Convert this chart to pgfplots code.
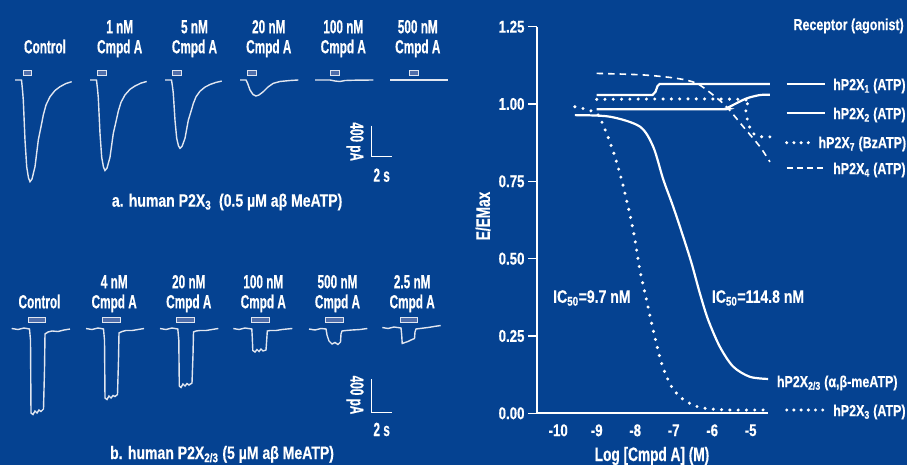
\documentclass[border=0pt]{standalone}
\usepackage{fontspec}
\usepackage{pgfplots}
\pgfplotsset{compat=1.18}
\setmainfont{Liberation Sans}
\newfontfamily\rf{Liberation Sans}[FakeStretch=0.78, FakeBold=0.4]
\newfontfamily\mf{Liberation Sans}[FakeStretch=0.70, FakeBold=0.4]
\newfontfamily\lf{Liberation Sans}[FakeStretch=0.62, FakeBold=0.4]
\definecolor{bg}{RGB}{5,66,145}
\definecolor{tr}{RGB}{225,230,240}
\definecolor{barf}{RGB}{80,110,170}
\newcommand{\LF}{\lf\bfseries\fontsize{19}{20}\selectfont}
\newcommand{\RF}{\rf\bfseries\fontsize{17}{18}\selectfont}
\newcommand{\LG}{\rf\bfseries\fontsize{16}{17}\selectfont}
\newcommand{\CF}{\rf\bfseries\fontsize{18}{19}\selectfont}
\newcommand{\AF}{\mf\bfseries\fontsize{19.5}{20}\selectfont}
\begin{document}
\begin{tikzpicture}
\useasboundingbox (0,0) rectangle (907pt,465pt);
\clip (0,0) rectangle (907pt,465pt);
\fill[bg] (0,0) rectangle (907pt,465pt);
% ---------------- pixel-space axis for the traces and texts
\begin{axis}[at={(0pt,0pt)}, anchor=south west, scale only axis,
  width=907pt, height=465pt, xmin=0, xmax=907, ymin=0, ymax=465,
  y dir=reverse, hide axis, clip=false]
% top traces
\addplot[tr, line width=1.4pt] coordinates {(15,80)(21.5,80)(22.5,90)(23.3,100)(25,140)(26.7,166.7)(28.5,178)(30,181.7)(32,179)(35,166.7)(38.3,140)(41.7,123.3)(43.3,115)(46,105)(50,96.7)(55,90.5)(60,86.7)(66,83.5)(71.7,81.7)};
\addplot[tr, line width=1.4pt] coordinates {(90,80)(96.5,80)(97.5,88.9)(98.3,97.8)(100,133.4)(101.7,157.2)(103.5,167.2)(105,170.5)(107,168.1)(110,157.2)(113.3,133.4)(116.7,118.5)(118.3,111.2)(121,102.3)(125,94.9)(130,89.3)(135,86)(141,83.1)(146.7,81.5)};
\addplot[tr, line width=1.4pt] coordinates {(165,80)(171.5,80)(172.5,86.7)(173.3,93.4)(175,120.3)(176.7,138.3)(178.5,145.9)(180,148.3)(182,146.5)(185,138.3)(188.3,120.3)(191.7,109.1)(193.3,103.5)(196,96.8)(200,91.2)(205,87.1)(210,84.5)(216,82.4)(221.7,81.1)};
\addplot[tr, line width=1.4pt] coordinates {(240,80)(246,80)(247.5,83)(250,90)(253,94.5)(256,96)(259,95)(263.3,91.7)(268,87)(273.3,83.3)(280,81.5)(290,80.5)(298.3,80)};
\addplot[tr, line width=1.4pt] coordinates {(315,80)(330,80)(335,81)(340,81.5)(345,80.5)(355,80.2)(373.3,80)};
\addplot[tr, line width=1.4pt] coordinates {(390,80)(448.3,80)};
% top bars
\addplot[draw=tr, fill=barf, line width=0.8pt] coordinates {(23.3,70.7)(31.7,70.7)(31.7,75)(23.3,75)} -- cycle;
\addplot[draw=tr, fill=barf, line width=0.8pt] coordinates {(97.7,70.7)(106.7,70.7)(106.7,75)(97.7,75)} -- cycle;
\addplot[draw=tr, fill=barf, line width=0.8pt] coordinates {(172.3,70.7)(181.7,70.7)(181.7,75)(172.3,75)} -- cycle;
\addplot[draw=tr, fill=barf, line width=0.8pt] coordinates {(247.3,70.7)(256.7,70.7)(256.7,75)(247.3,75)} -- cycle;
\addplot[draw=tr, fill=barf, line width=0.8pt] coordinates {(330,70.7)(339.3,70.7)(339.3,75)(330,75)} -- cycle;
\addplot[draw=tr, fill=barf, line width=0.8pt] coordinates {(409.3,70.7)(418.3,70.7)(418.3,75)(409.3,75)} -- cycle;
% bottom traces
\addplot[tr, line width=1.4pt] coordinates {(11.7,328.5)(18,329.5)(24,328)(29.5,329)(30.5,340)(31,413)(33,414.5)(35,411)(37,413)(39,410)(41,411.5)(43.5,409)(44.5,370)(45,334)(48,332)(52,331)(58,331.5)(64,330)(70,329)};
\addplot[tr, line width=1.4pt] coordinates {(86,328.5)(92,329.5)(98,328)(103.5,329)(104.5,340)(105,398)(107,399.5)(109,396)(111,398)(113,395.5)(115,396.5)(117.5,394.5)(118.5,360)(119,333)(122,331.5)(126,330.5)(132,330.5)(138,329.5)(144,328.5)};
\addplot[tr, line width=1.4pt] coordinates {(160,328.5)(166,329.5)(172,328)(177.8,329)(178.8,340)(179.3,386)(181,387.5)(183,384)(185,386)(187,383.5)(189,385)(192,383)(193,355)(193.5,332)(196,331)(200,330.5)(206,330.5)(212,329.5)(218.3,328.5)};
\addplot[tr, line width=1.4pt] coordinates {(233.3,328.5)(239,329.5)(245,328)(251.8,329)(252.3,338)(252.8,350.5)(255,352)(257,349.5)(259,351.5)(261,349)(263,351)(266,350)(266.7,340)(267.3,331)(270,330.5)(276,330.5)(282,329.5)(292.3,328.5)};
\addplot[tr, line width=1.4pt] coordinates {(309,329)(315,330)(321,328.5)(326,329)(327,335)(329,341)(332,344)(335,342.5)(338,344.5)(340.5,342)(341,334)(342,331)(346,330.5)(352,330)(360,329.5)(367.3,328.5)};
\addplot[tr, line width=1.4pt] coordinates {(382.3,327.5)(388,328.5)(394,327)(401,328)(401.7,335)(402.2,343.5)(405,342.5)(408,341.5)(411,340)(414.5,338.5)(415,332)(416,329)(420,328.5)(428,327.5)(434,326.5)(440.7,325.5)};
% bottom bars
\addplot[draw=tr, fill=barf, line width=0.8pt] coordinates {(28.3,317.7)(45,317.7)(45,322.3)(28.3,322.3)} -- cycle;
\addplot[draw=tr, fill=barf, line width=0.8pt] coordinates {(102.7,317.7)(120,317.7)(120,322.3)(102.7,322.3)} -- cycle;
\addplot[draw=tr, fill=barf, line width=0.8pt] coordinates {(176.7,317.7)(194.3,317.7)(194.3,322.3)(176.7,322.3)} -- cycle;
\addplot[draw=tr, fill=barf, line width=0.8pt] coordinates {(251.7,317.7)(269.3,317.7)(269.3,322.3)(251.7,322.3)} -- cycle;
\addplot[draw=tr, fill=barf, line width=0.8pt] coordinates {(325.7,317.7)(343.3,317.7)(343.3,322.3)(325.7,322.3)} -- cycle;
\addplot[draw=tr, fill=barf, line width=0.8pt] coordinates {(400,317.7)(417.3,317.7)(417.3,322.3)(400,322.3)} -- cycle;
% scale bars
\addplot[white, line width=1pt] coordinates {(371,125.7)(371,156.7)(391.7,156.7)};
\addplot[white, line width=1pt] coordinates {(371,379.3)(371,412.7)(391.7,412.7)};
% legend samples for the right chart
\addplot[white, line width=2.2pt] coordinates {(786.7,84)(825,84)};
\addplot[white, line width=2.2pt] coordinates {(786.7,113.3)(825,113.3)};
\addplot[white, line width=3.4pt, line cap=round, dash pattern=on 0pt off 7.2pt] coordinates {(786.7,142.7)(809,142.7)};
\addplot[white, line width=1.6pt, dash pattern=on 6pt off 4pt] coordinates {(786.7,168.3)(825,168.3)};
\addplot[white, line width=3.4pt, line cap=round, dash pattern=on 0pt off 7.2pt] coordinates {(786.7,410)(823,410)};
% texts, left panel
\begin{scope}[every node/.style={white, font=\LF, inner sep=0pt}]
\node[anchor=base] at (axis cs:45,53.3) {Control};
\node[anchor=base] at (axis cs:119.7,33.3) {1 nM};
\node[anchor=base] at (axis cs:119.7,53.3) {Cmpd A};
\node[anchor=base] at (axis cs:194.5,33.3) {5 nM};
\node[anchor=base] at (axis cs:194.5,53.3) {Cmpd A};
\node[anchor=base] at (axis cs:268.8,33.3) {20 nM};
\node[anchor=base] at (axis cs:268.8,53.3) {Cmpd A};
\node[anchor=base] at (axis cs:343.3,33.3) {100 nM};
\node[anchor=base] at (axis cs:343.3,53.3) {Cmpd A};
\node[anchor=base] at (axis cs:417.8,33.3) {500 nM};
\node[anchor=base] at (axis cs:417.8,53.3) {Cmpd A};
\node[anchor=base] at (axis cs:39.5,308.3) {Control};
\node[anchor=base] at (axis cs:114.2,288.3) {4 nM};
\node[anchor=base] at (axis cs:114.2,308.3) {Cmpd A};
\node[anchor=base] at (axis cs:188.8,288.3) {20 nM};
\node[anchor=base] at (axis cs:188.8,308.3) {Cmpd A};
\node[anchor=base] at (axis cs:263.3,288.3) {100 nM};
\node[anchor=base] at (axis cs:263.3,308.3) {Cmpd A};
\node[anchor=base] at (axis cs:337.5,288.3) {500 nM};
\node[anchor=base] at (axis cs:337.5,308.3) {Cmpd A};
\node[anchor=base] at (axis cs:412.2,288.3) {2.5 nM};
\node[anchor=base] at (axis cs:412.2,308.3) {Cmpd A};
\node[rotate=-90] at (axis cs:355,141.7) {400 pA};
\node[rotate=-90] at (axis cs:355,395) {400 pA};
\node[anchor=base] at (axis cs:381.7,181.7) {2 s};
\node[anchor=base] at (axis cs:381.7,436) {2 s};
\end{scope}
\begin{scope}[every node/.style={white, font=\CF, inner sep=0pt}]
\node[anchor=base west] at (axis cs:111.7,206.7) {a. human P2X\textsubscript{3}\ \ (0.5 µM aβ MeATP)};
\node[anchor=base west] at (axis cs:110,459) {b. human P2X\textsubscript{2/3} (5 µM aβ MeATP)};
\node[anchor=west] at (axis cs:553,298) {IC\textsubscript{50}=9.7 nM};
\node[anchor=west] at (axis cs:711.7,298) {IC\textsubscript{50}=114.8 nM};
\end{scope}
\begin{scope}[every node/.style={white, font=\AF, inner sep=0pt}]
\node[rotate=90] at (axis cs:483,216) {E/EMax};
\node at (axis cs:652,456) {Log [Cmpd A] (M)};
\end{scope}
\begin{scope}[every node/.style={white, font=\LG, inner sep=0pt}]
\node[anchor=west] at (axis cs:793.3,26) {Receptor (agonist)};
\node[anchor=west] at (axis cs:833,86) {hP2X\textsubscript{1} (ATP)};
\node[anchor=west] at (axis cs:833,115) {hP2X\textsubscript{2} (ATP)};
\node[anchor=west] at (axis cs:818.3,144) {hP2X\textsubscript{7} (BzATP)};
\node[anchor=west] at (axis cs:833,170) {hP2X\textsubscript{4} (ATP)};
\node[anchor=west] at (axis cs:776.7,383) {hP2X\textsubscript{2/3} (α,β-meATP)};
\node[anchor=west] at (axis cs:833,412) {hP2X\textsubscript{3} (ATP)};
\end{scope}
\end{axis}
% ---------------- concentration-response chart
\begin{axis}[at={(537pt,51.7pt)}, anchor=south west, scale only axis,
  width=231pt, height=386.6pt,
  xmin=-10.55, xmax=-4.55, ymin=0, ymax=1.25,
  axis lines=left, axis line style={white, line width=1.6pt, -},
  clip=false,
  xtick={-10,-9,-8,-7,-6,-5}, xticklabels={-10,-9,-8,-7,-6,-5},
  ytick={0,0.25,0.5,0.75,1,1.25},
  yticklabels={0.00,0.25,0.50,0.75,1.00,1.25},
  tick align=outside, major tick length=9pt,
  xtick style={draw=none}, ytick style={white, line width=1.5pt},
  tick label style={white, font=\RF},
  xticklabel style={yshift=1.5pt}]
% hP2X2/3
\addplot[white, line width=2.2pt, smooth] coordinates {(-9.566,0.964)(-8.657,0.959)(-7.878,0.927)(-7.532,0.862)(-7.273,0.757)(-7.013,0.668)(-6.753,0.571)(-6.535,0.485)(-6.32,0.388)(-6.104,0.302)(-5.80,0.215)(-5.455,0.151)(-5.021,0.118)(-4.545,0.111)};
% hP2X3
\addplot[white, line width=3.4pt, line cap=round, dash pattern=on 0pt off 8.3pt, smooth] coordinates {(-9.566,0.991)(-9.22,0.981)(-8.96,0.964)(-8.743,0.905)(-8.527,0.830)(-8.312,0.735)(-8.052,0.593)(-7.878,0.463)(-7.704,0.366)(-7.532,0.269)(-7.314,0.162)(-7.055,0.086)(-6.753,0.045)(-6.32,0.019)(-5.626,0.011)(-4.50,0.011)};
% hP2X1
\addplot[white, line width=2.2pt] coordinates {(-9.0,1.029)(-7.55,1.029)(-7.47,1.040)(-7.42,1.058)(-7.36,1.065)(-4.5,1.065)};
% hP2X2
\addplot[white, line width=2.2pt, smooth] coordinates {(-9.0,0.983)(-5.80,0.983)(-5.62,0.987)(-5.455,0.997)(-5.11,1.018)(-4.76,1.029)(-4.5,1.03)};
% hP2X7
\addplot[white, line width=3.4pt, line cap=round, dash pattern=on 0pt off 8.3pt, smooth] coordinates {(-9.0,1.015)(-5.28,1.015)(-5.15,0.991)(-5.065,0.938)(-4.935,0.905)(-4.717,0.894)(-4.46,0.894)};
% hP2X4
\addplot[white, line width=1.6pt, dash pattern=on 6.5pt off 5pt, smooth] coordinates {(-9.0,1.099)(-7.79,1.094)(-6.925,1.083)(-6.405,1.067)(-5.974,1.029)(-5.626,0.991)(-5.195,0.927)(-4.76,0.862)(-4.50,0.813)};
\end{axis}
\end{tikzpicture}
\end{document}
